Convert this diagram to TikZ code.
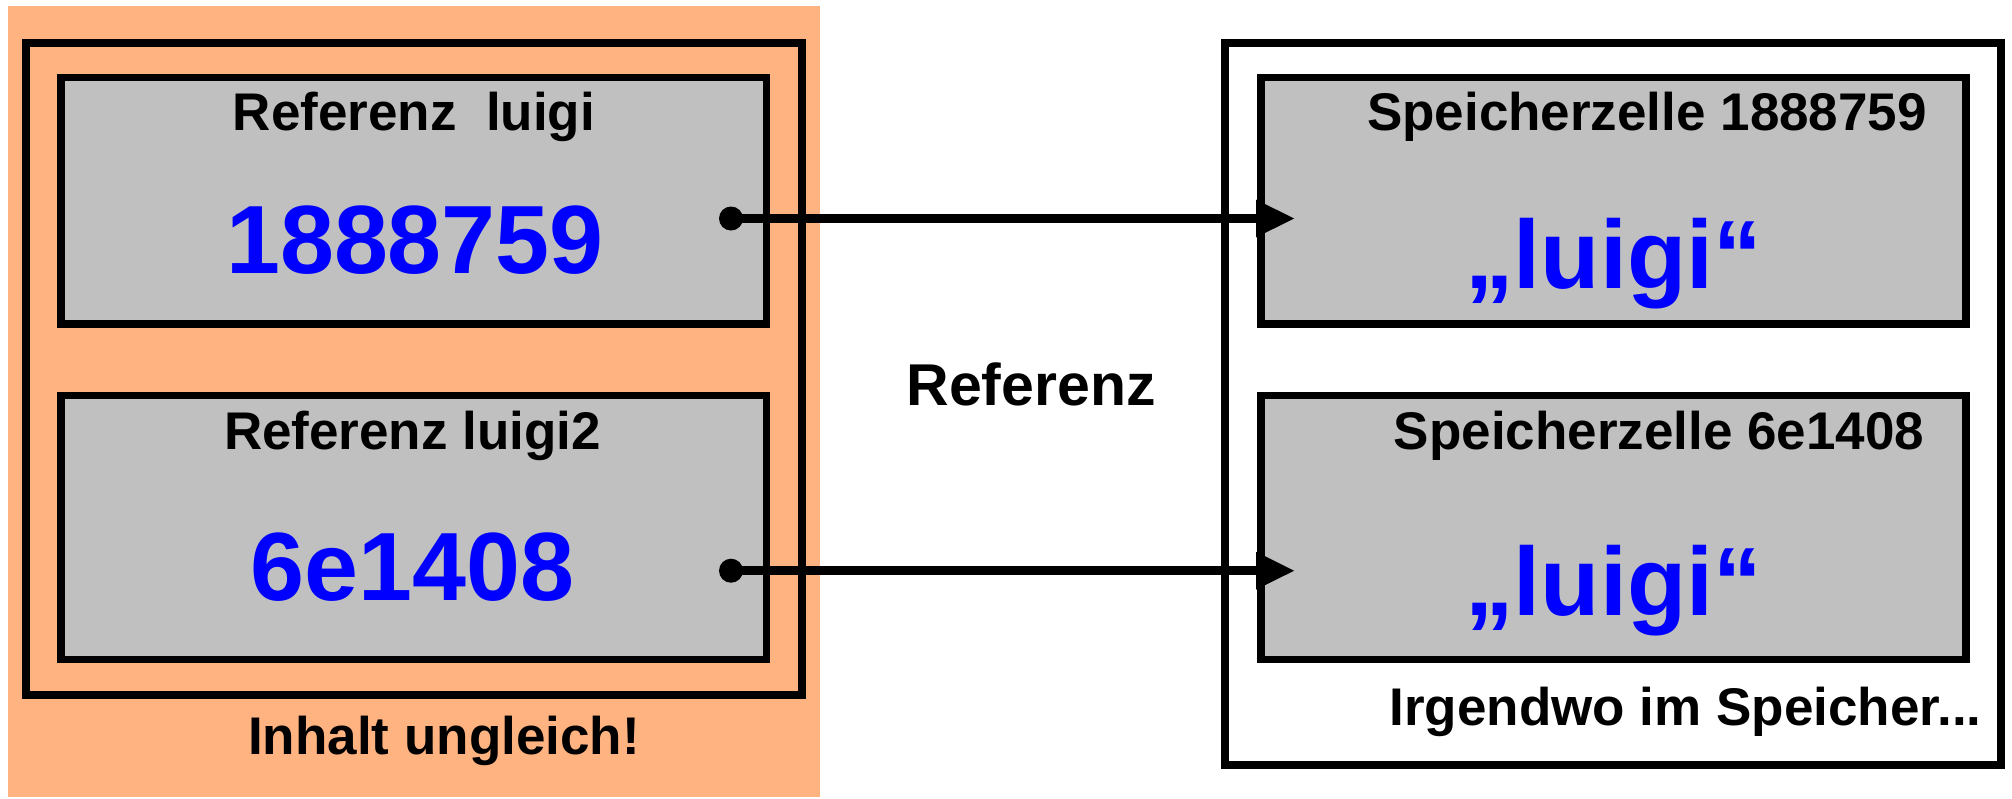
\documentclass[tikz,border=0pt]{standalone}
\usepackage{fontspec}
\setmainfont{Liberation Sans}
\usetikzlibrary{arrows.meta}
\definecolor{cellgray}{HTML}{C0C0C0}
\definecolor{stackorange}{HTML}{FFB380}
\definecolor{valblue}{HTML}{0000FF}
\begin{document}
\begin{tikzpicture}[x=0.5pt,y=-0.5pt,
  box/.style={rectangle, inner sep=0pt, outer sep=0pt},
  framebox/.style={box, draw=black, line width=4pt},
  cellbox/.style={box, draw=black, fill=cellgray, line width=3.75pt, minimum width=352.75pt},
  caption/.style={inner sep=0pt, anchor=base, font=\fontsize{26.5pt}{30pt}\selectfont\bfseries},
  value/.style={inner sep=0pt, anchor=base, text=valblue, font=\fontsize{48.5pt}{55pt}\selectfont\bfseries},
  dotnode/.style={circle, fill=black, inner sep=0pt, minimum size=12pt},
  pointer/.style={line width=4.5pt, -{Triangle[length=19.5pt,width=17.5pt]}}]
  % page
  \useasboundingbox[fill=white] (0,0) rectangle (2012,798);

  % stack side (left)
  \node[box, fill=stackorange, minimum width=406pt, minimum height=395.5pt] (stack) at (414,401.5) {};
  \node[framebox, minimum width=388.25pt, minimum height=326pt] (stackframe) at (413.75,368.5) {};
  \node[cellbox, minimum height=123.25pt] (ref1) at (413.75,200.75) {};
  \node[cellbox, minimum height=132pt] (ref2) at (413.75,527.5) {};

  % heap side (right)
  \node[framebox, minimum width=388pt, minimum height=361pt] (heapframe) at (1613,403.5) {};
  \node[cellbox, minimum width=352.5pt, minimum height=123.25pt] (cell1) at (1613.5,200.75) {};
  \node[cellbox, minimum width=352.5pt, minimum height=132pt] (cell2) at (1613.5,527.5) {};

  % texts
  \node[caption] (ref1title) at (414,130) {Referenz\ \ luigi};
  \node[value] (ref1val) at (415,273) {1888759};
  \node[caption] (ref2title) at (412.5,449.3) {Referenz luigi2};
  \node[value] (ref2val) at (412.5,600) {6e1408};
  \node[caption] (stacknote) at (444,754) {Inhalt ungleich!};

  \node[caption, font=\fontsize{29.5pt}{33pt}\selectfont\bfseries] (midlabel) at (1031,405) {Referenz};

  \node[caption] (cell1title) at (1647,130) {Speicherzelle 1888759};
  \node[value] (cell1val) at (1613.5,288) {„luigi“};
  \node[caption] (cell2title) at (1659,449.3) {Speicherzelle 6e1408};
  \node[value] (cell2val) at (1613.5,615) {„luigi“};
  \node[caption] (heapnote) at (1685.5,725) {Irgendwo im Speicher...};

  % pointers
  \node[dotnode] (dot1) at (731,218.5) {};
  \node[dotnode] (dot2) at (731,570.7) {};
  \coordinate (tip1) at (1295,218.5);
  \coordinate (tip2) at (1295,570.7);
  \draw[pointer] (dot1.center) -- (tip1);
  \draw[pointer] (dot2.center) -- (tip2);
\end{tikzpicture}
\end{document}
